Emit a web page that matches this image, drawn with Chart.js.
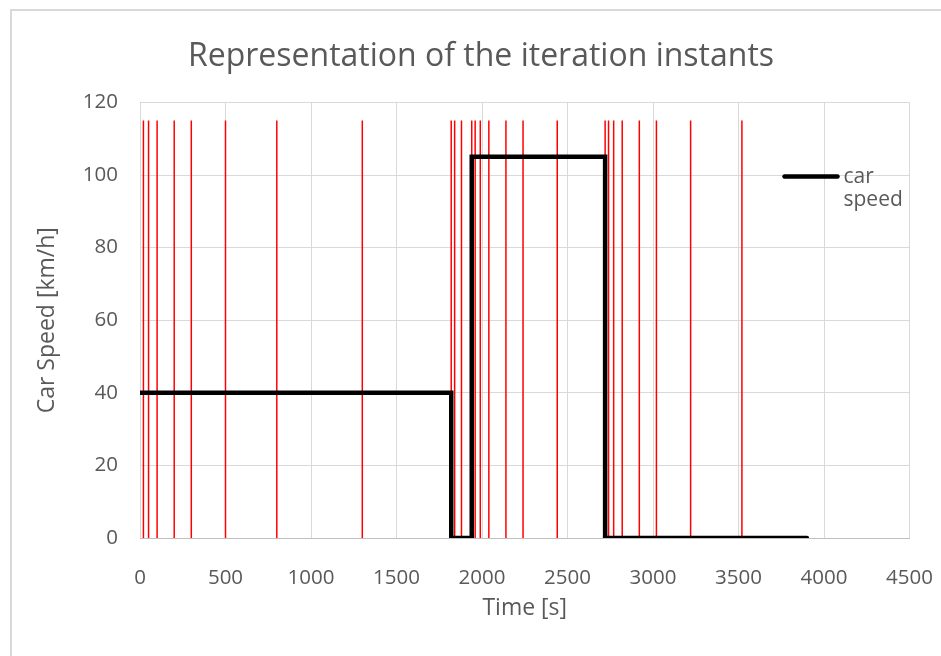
<!DOCTYPE html>
<html>
<head>
<meta charset="utf-8">
<script src="https://cdn.jsdelivr.net/npm/chart.js@4.4.1/dist/chart.umd.min.js"></script>
<style>
  html, body { margin: 0; padding: 0; background: #ffffff; }
  #wrap { position: relative; width: 941px; height: 656px; }
  canvas { display: block; }
</style>
</head>
<body>
<div id="wrap"><canvas id="chart" width="941" height="656"></canvas></div>
<script>
// Car speed profile: the speed holds each value from its change time until the next one
const speedChangeTimes = [0, 1820, 1940, 2720, 3900];   // s
const speedValues      = [40, 0, 105, 0, 0];            // km/h

// Instants at which the solver iterated (drawn as vertical red markers)
const iterationTimes = [20, 50, 100, 200, 300, 500, 800, 1300,
                        1820, 1840, 1880, 1940, 1960, 1990, 2040, 2140, 2240, 2440,
                        2720, 2740, 2770, 2820, 2920, 3020, 3220, 3520];
const iterationMarkerTop = 115;                          // km/h level where markers end

// Axis tick values
const timeTicks  = [0, 500, 1000, 1500, 2000, 2500, 3000, 3500, 4000, 4500];
const speedTicks = [0, 20, 40, 60, 80, 100, 120];

const FONT = "'Open Sans', 'Liberation Sans', sans-serif";
const TEXT = '#595959';
const GRID = '#d9d9d9';

const speedPoints = speedChangeTimes.map((t, i) => ({ x: t, y: speedValues[i] }));

// each marker is a two-point segment; a null point breaks the path between markers
const markerPoints = [];
iterationTimes.forEach(t => {
  markerPoints.push({ x: t, y: 0 }, { x: t, y: iterationMarkerTop }, { x: t, y: null });
});

// white page with the light frame around the chart; title centred on the framed area
const framePlugin = {
  id: 'frame',
  afterLayout(chart) {
    if (chart.titleBlock) {
      chart.titleBlock.left = 21;
      chart.titleBlock.right = chart.width;
    }
  },
  beforeDraw(chart) {
    const ctx = chart.ctx;
    ctx.save();
    ctx.fillStyle = '#ffffff';
    ctx.fillRect(0, 0, chart.width, chart.height);
    ctx.strokeStyle = GRID;
    ctx.lineWidth = 2;
    ctx.strokeRect(11, 10, chart.width + 20, chart.height + 20);
    ctx.restore();
  }
};

// legend entry sitting inside the plot area, label wrapped on two lines
const insideLegend = {
  id: 'insideLegend',
  afterDatasetsDraw(chart) {
    const ds = chart.data.datasets[0];
    const ctx = chart.ctx;
    const xs = chart.scales.x, ys = chart.scales.y;
    const x0 = xs.right - 125, y0 = ys.top + 74;
    ctx.save();
    ctx.strokeStyle = ds.borderColor;
    ctx.lineWidth = ds.borderWidth;
    ctx.lineCap = 'round';
    ctx.beginPath();
    ctx.moveTo(x0, y0);
    ctx.lineTo(x0 + 53, y0);
    ctx.stroke();
    ctx.fillStyle = TEXT;
    ctx.font = '21px ' + FONT;
    ctx.textBaseline = 'middle';
    ctx.textAlign = 'left';
    const words = ds.label.split(' ');
    words.forEach((w, i) => ctx.fillText(w, x0 + 59, y0 + 1 + i * 23));
    ctx.restore();
  }
};

const plainNumber = v => String(v);

new Chart(document.getElementById('chart'), {
  type: 'scatter',
  data: {
    datasets: [
      {
        label: 'car speed',
        data: speedPoints,
        showLine: true,
        stepped: 'before',
        borderColor: '#000000',
        backgroundColor: '#000000',
        borderWidth: 4.5,
        borderCapStyle: 'round',
        borderJoinStyle: 'miter',
        pointRadius: 0,
        order: 1
      },
      {
        label: 'iteration instants',
        data: markerPoints,
        showLine: true,
        spanGaps: false,
        borderColor: '#ff0000',
        borderWidth: 1.5,
        pointRadius: 0,
        order: 2
      }
    ]
  },
  options: {
    responsive: false,
    animation: false,
    events: [],
    layout: { padding: { top: 0, right: 31.5, bottom: 0, left: 0 } },
    plugins: {
      legend: { display: false },
      tooltip: { enabled: false },
      title: {
        display: true,
        text: 'Representation of the iteration instants',
        color: TEXT,
        font: { family: FONT, size: 32, weight: 'normal' },
        padding: { top: 38, bottom: 26 }
      }
    },
    scales: {
      x: {
        type: 'linear',
        min: timeTicks[0],
        max: timeTicks[timeTicks.length - 1],
        afterBuildTicks(scale) { scale.ticks = timeTicks.map(v => ({ value: v })); },
        afterFit(scale) {
          scale.height = 118;
          scale.paddingLeft = 0;
          scale.paddingRight = 0;
        },
        grid: { color: GRID, lineWidth: 1, drawTicks: false },
        border: { display: true, color: '#bfbfbf', width: 1 },
        ticks: {
          color: TEXT,
          padding: 28,
          maxRotation: 0,
          callback: plainNumber,
          font: { family: FONT, size: 20.5 }
        },
        title: {
          display: true,
          text: 'Time [s]',
          color: TEXT,
          font: { family: FONT, size: 23 },
          padding: { top: 0, bottom: 34 }
        }
      },
      y: {
        type: 'linear',
        min: speedTicks[0],
        max: speedTicks[speedTicks.length - 1],
        afterBuildTicks(scale) { scale.ticks = speedTicks.map(v => ({ value: v })); },
        afterFit(scale) { scale.width = 140; },
        grid: { color: GRID, lineWidth: 1, drawTicks: false },
        border: { display: false },
        ticks: {
          color: TEXT,
          padding: 22,
          callback: plainNumber,
          font: { family: FONT, size: 20.5 }
        },
        title: {
          display: true,
          text: 'Car Speed [km/h]',
          color: TEXT,
          font: { family: FONT, size: 23 },
          padding: { top: 34, bottom: 0 }
        }
      }
    }
  },
  plugins: [framePlugin, insideLegend]
});
</script>
</body>
</html>
